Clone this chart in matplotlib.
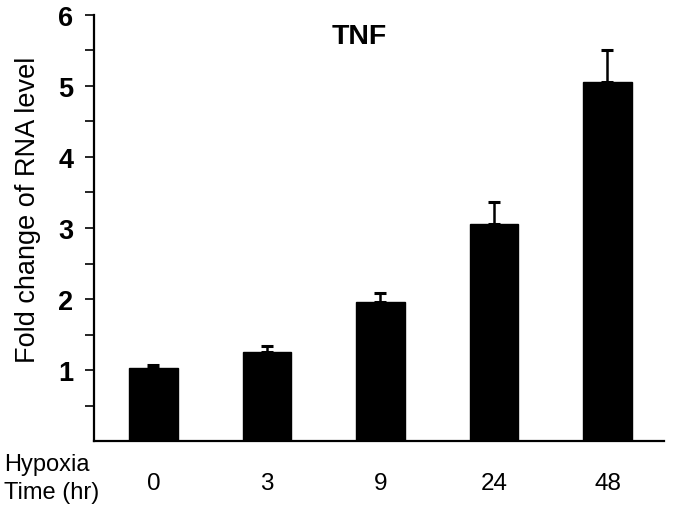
import matplotlib
matplotlib.use("Agg")
import matplotlib.pyplot as plt
import numpy as np

plt.rcParams['font.family'] = ['Liberation Sans', 'DejaVu Sans']

categories = ["0", "3", "9", "24", "48"]
values = [1.035, 1.26, 1.955, 3.06, 5.05]
errors = [0.045, 0.08, 0.125, 0.30, 0.46]
yticks_major = [1, 2, 3, 4, 5, 6]

fig = plt.figure(figsize=(6.75, 5.06), dpi=100)
W, H = 675, 506
left, right = 94, 664
top, bottom = 15.7, 442.3
ax = fig.add_axes([left / W, 1 - bottom / H, (right - left) / W, (bottom - top) / H])

x = np.arange(len(categories))
ax.bar(x, values, width=0.425, color='black', edgecolor='black', zorder=2)
ax.errorbar(x, values, yerr=[np.zeros(len(errors)), errors], fmt='none',
            ecolor='black', elinewidth=1.8, capsize=4.5, capthick=2.2, zorder=3)

ax.set_xlim(-0.524, 4.498)
ax.set_ylim(0, 6)
ax.spines['top'].set_visible(False)
ax.spines['right'].set_visible(False)
ax.spines['left'].set_linewidth(1.6)
ax.spines['bottom'].set_linewidth(1.6)

ax.set_yticks(yticks_major)
ax.set_yticks(np.arange(0.5, 6, 1.0), minor=True)
ax.set_yticklabels([str(v) for v in yticks_major], fontsize=19.5, fontweight='bold')
ax.tick_params(axis='y', which='both', direction='out', length=6.5, width=1.2, pad=8.5)

ax.set_xticks(x)
ax.set_xticklabels(categories, fontsize=17.5)
ax.tick_params(axis='x', length=0, pad=22)

fig.text(28 / W, 1 - 210 / H, "Fold change of RNA level", fontsize=19.5,
         rotation=90, ha='center', va='center')

fig.text(359.5 / W, 1 - 43.5 / H, "TNF", fontsize=20.5, fontweight='bold',
         ha='center', va='baseline')
fig.text(4 / W, 1 - 471 / H, "Hypoxia", fontsize=17, ha='left', va='baseline')
fig.text(4 / W, 1 - 499 / H, "Time (hr)", fontsize=17, ha='left', va='baseline')

fig.savefig("out.png", dpi=100)
